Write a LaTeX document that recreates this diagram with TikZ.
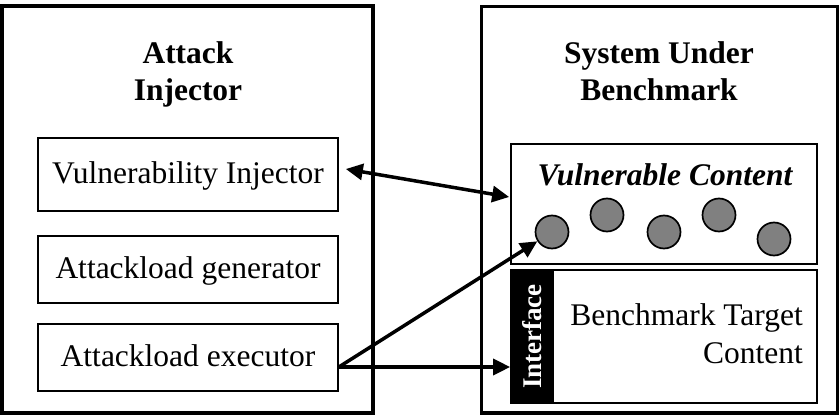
\documentclass[tikz,border=0pt]{standalone}
\usepackage{fontspec}
\setmainfont{Liberation Serif}
\usetikzlibrary{arrows.meta}
\definecolor{dotgray}{HTML}{808080}
\begin{document}
\begin{tikzpicture}[x=1pt,y=-1pt,
  txt/.style={font=\fontsize{31.5}{38}\selectfont, inner sep=0pt},
  ttl/.style={inner sep=0pt, font=\fontsize{31.5}{38}\selectfont\bfseries},
  outer/.style={draw, line width=3.6pt, inner sep=0pt},
  inbox/.style={draw, line width=1.7pt, inner sep=0pt, minimum width=300pt,
                font=\fontsize{31.5}{38}\selectfont, text height=21pt, text depth=4pt},
  thinbox/.style={draw, line width=1.7pt, inner sep=0pt, minimum width=306pt},
  dot/.style={circle, draw, fill=dotgray, line width=1.7pt, minimum size=33pt, inner sep=0pt},
  tip/.tip={Triangle[length=17pt,width=16pt]},
  arr/.style={line width=3.5pt, -tip},
]
\useasboundingbox (0,0) rectangle (839,415);

% outer frames
\node[outer, minimum width=371pt, minimum height=407pt] (ai) at (187.5,209.5) {};
\node[outer, minimum width=356pt, minimum height=406.5pt] (sub) at (659.5,209.75) {};

% titles
\node[ttl, anchor=base] (ait1) at (188,63) {Attack};
\node[ttl, anchor=base] (ait2) at (188,100) {Injector};
\node[ttl, anchor=base] (subt1) at (659,63) {System Under};
\node[ttl, anchor=base] (subt2) at (659,100) {Benchmark};

% attack injector components
\node[inbox, minimum height=73pt] (vi) at (188,174.5) {Vulnerability Injector};
\node[inbox, minimum height=67pt] (ag) at (188,269.5) {Attackload generator};
\node[inbox, minimum height=67pt] (ex) at (188,357.5) {Attackload executor};

% vulnerable content
\node[thinbox, minimum height=120pt] (vc) at (664,204) {};
\node[txt, font=\fontsize{31.5}{38}\selectfont\bfseries\itshape, anchor=base] (vct) at (665,185) {Vulnerable Content};
\node[dot] (c1) at (552,232) {};
\node[dot] (c2) at (607,215) {};
\node[dot] (c3) at (664,232) {};
\node[dot] (c4) at (719,215) {};
\node[dot] (c5) at (774,239) {};

% benchmark target with its interface
\node[thinbox, minimum height=133pt] (bt) at (664,336.5) {};
\node[fill=black, draw, line width=1.7pt, inner sep=0pt, minimum width=42pt, minimum height=133pt] (iface) at (532,336.5) {};
\node[rotate=90, text=white, inner sep=0pt, font=\fontsize{27}{30}\selectfont\bfseries] (ifacet) at (iface.center) {Interface};
\node[txt, anchor=base east] (bt1) at (803,325) {Benchmark Target};
\node[txt, anchor=base east] (bt2) at (803,363) {Content};

% connectors
\draw[line width=3.5pt, tip-tip] ([shift={(7,-5.5)}]vi.east) -- ([shift={(-1,-7)}]vc.west);
\coordinate (exo) at ([shift={(0,9.5)}]ex.east);
\draw[arr] (exo) -- (c1);
\draw[arr] (exo) -- (exo -| iface.west);
\end{tikzpicture}
\end{document}
